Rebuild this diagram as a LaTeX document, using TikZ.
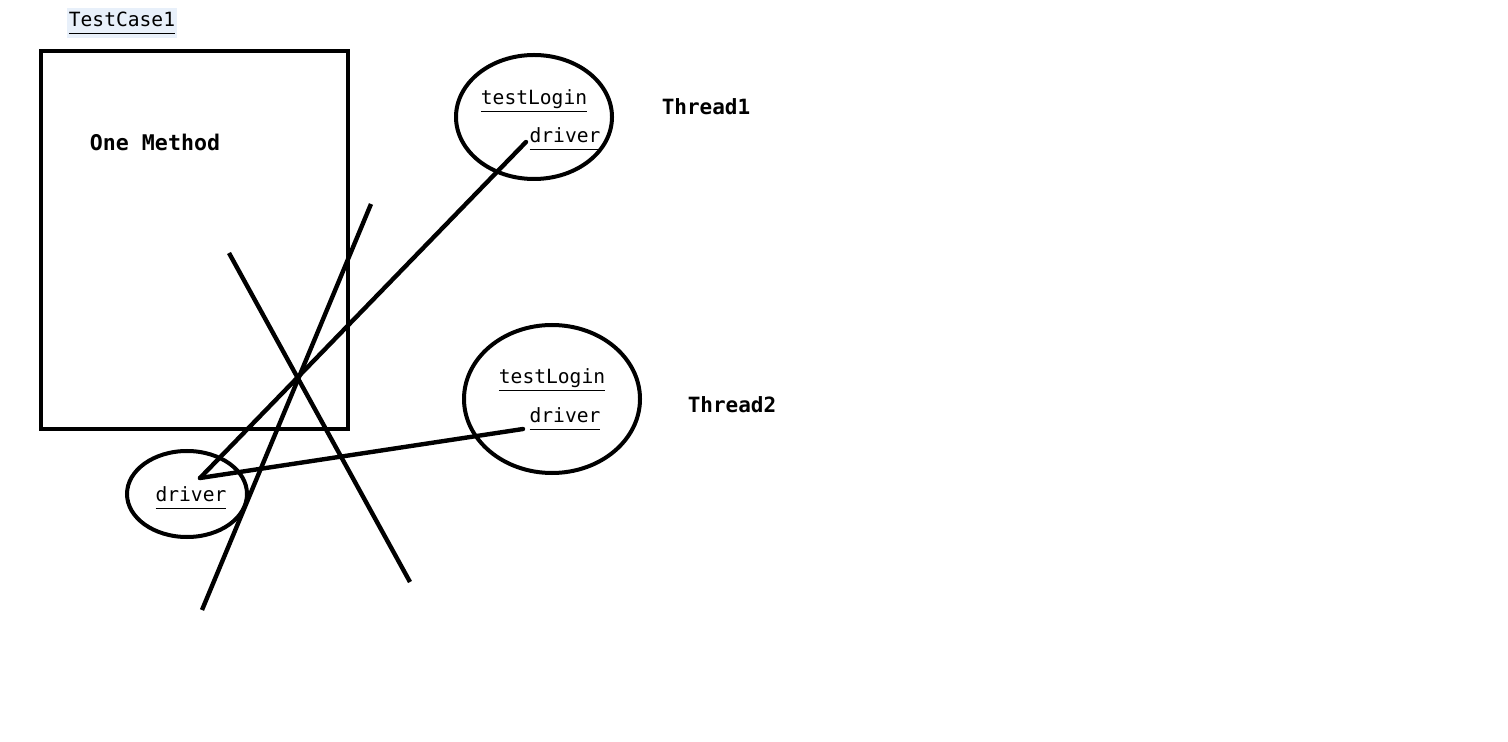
\documentclass[tikz,border=0pt]{standalone}
\usepackage{fontspec}
\setmonofont{DejaVu Sans Mono}
\definecolor{hilite}{HTML}{E8F0FA}
\newcommand\ulword[1]{\underline{\vphantom{g}#1}}
\begin{document}
\begin{tikzpicture}[x=0.5pt,y=-0.5pt,
  ink/.style={line width=2.2pt,black},
  ring/.style={draw,line width=2pt},
  word/.style={font=\ttfamily\fontsize{9.8}{11}\selectfont,inner sep=0pt},
  heading/.style={font=\ttfamily\bfseries\fontsize{10.5}{12}\selectfont,inner sep=0pt}]
\useasboundingbox[fill=white] (0,0) rectangle (1508,742);

% test case label and method box
\node[word,fill=hilite,inner xsep=1pt,inner ysep=2pt] (tc) at (122,23) {\ulword{TestCase1}};
\draw[ink,line width=2.4pt] (41,51) rectangle (348,429);
\node[heading,font=\ttfamily\bfseries\fontsize{10.8}{12}\selectfont] (method) at (155,142) {One Method};

% thread ellipses
\draw[ring] (534,117) ellipse [x radius=78,y radius=62];
\draw[ring] (552,399) ellipse [x radius=88,y radius=74];
\draw[ring] (187,494) ellipse [x radius=60,y radius=43];

\node[word] (login1) at (534,101) {\ulword{testLogin}};
\node[word] (drv1) at (565,139) {\ulword{driver}};
\node[heading] (t1) at (706,107) {Thread1};
\node[word] (login2) at (552,380) {\ulword{testLogin}};
\node[word] (drv2) at (565,419) {\ulword{driver}};
\node[heading] (t2) at (732,405) {Thread2};
\node[word] (drv0) at (191,498) {\ulword{driver}};

% links from the shared driver
\coordinate (hub) at (200,478);
\coordinate (end1) at (526,142);
\coordinate (end2) at (523,429);
\draw[ink,line cap=round] (hub) -- (end1);
\draw[ink,line cap=round] (hub) -- (end2);

% crossing-out strokes
\coordinate (xa1) at (371,204);
\coordinate (xa2) at (202,610);
\coordinate (xb1) at (229,253);
\coordinate (xb2) at (410,582);
\draw[ink] (xa1) -- (xa2);
\draw[ink] (xb1) -- (xb2);
\end{tikzpicture}
\end{document}
